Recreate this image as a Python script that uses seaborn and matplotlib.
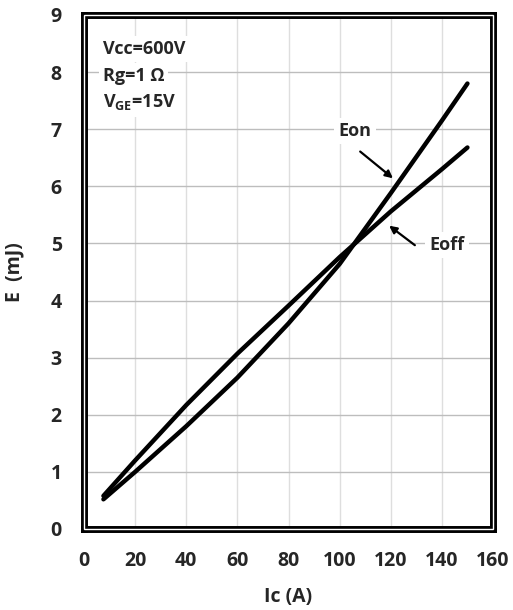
import matplotlib
matplotlib.use("Agg")
import matplotlib.pyplot as plt
import seaborn as sns
import pandas as pd
from matplotlib.patches import Rectangle

# Data
ic_on = [7.6, 20, 40, 60, 80, 100, 120, 140, 150]
e_on = [0.52, 1.00, 1.80, 2.65, 3.60, 4.64, 5.88, 7.15, 7.80]
ic_off = [7.6, 20, 40, 60, 80, 100, 120, 140, 150]
e_off = [0.58, 1.20, 2.17, 3.07, 3.91, 4.76, 5.56, 6.30, 6.68]

x_ticks = [0, 20, 40, 60, 80, 100, 120, 140, 160]
y_ticks = [0, 1, 2, 3, 4, 5, 6, 7, 8, 9]

df = pd.concat([
    pd.DataFrame({"Ic": ic_on, "E": e_on, "curve": "Eon"}),
    pd.DataFrame({"Ic": ic_off, "E": e_off, "curve": "Eoff"}),
])

sns.set_style("white")
FONT = ["Open Sans", "DejaVu Sans"]
plt.rcParams["font.family"] = FONT
plt.rcParams["font.weight"] = "bold"
plt.rcParams["mathtext.fontset"] = "custom"
plt.rcParams["mathtext.bf"] = "Open Sans:bold"
plt.rcParams["mathtext.rm"] = "Open Sans:bold"

fig = plt.figure(figsize=(5.13, 6.10), dpi=100)
ax = fig.add_axes([84/513, 1-529/610, 409/513, 514/610])

sns.lineplot(data=df, x="Ic", y="E", units="curve", estimator=None,
             color="black", linewidth=3.2, sort=False, ax=ax,
             solid_capstyle="round", solid_joinstyle="round", legend=False)

ax.set_xlim(0, 160)
ax.set_ylim(0, 9)
ax.set_xticks(x_ticks)
ax.set_yticks(y_ticks)
ax.set_xticklabels([str(v) for v in x_ticks], fontsize=14, fontweight="bold")
ax.set_yticklabels([str(v) for v in y_ticks], fontsize=14, fontweight="bold")
ax.tick_params(axis="x", length=0, pad=16)
ax.tick_params(axis="y", length=0, pad=16)

# grid
for v in x_ticks[1:-1]:
    ax.axvline(v, color="#dedede", lw=1, zorder=0)
for v in y_ticks[1:-1]:
    ax.axhline(v, color="#bdbdbd", lw=1, zorder=0)

for s in ax.spines.values():
    s.set_linewidth(5)
    s.set_color("black")
ax.add_patch(Rectangle((0, 0), 1, 1, transform=ax.transAxes, fill=False,
                       edgecolor="white", lw=1, clip_on=False, zorder=10))

ax.set_xlabel("Ic (A)", fontsize=14, fontweight="bold")
ax.set_ylabel("E  (mJ)", fontsize=14, fontweight="bold")
ax.xaxis.set_label_coords(0.5, -0.112)
ax.yaxis.set_label_coords(-0.145, 0.5)

box = dict(facecolor="white", edgecolor="none", pad=3)
ax.text(7.3, 8.4, "Vcc=600V", fontsize=13, fontweight="bold", va="center",
        ha="left", bbox=box)
ax.text(7.3, 7.93, "Rg=1 Ω", fontsize=13, fontweight="bold", va="center",
        ha="left", bbox=box)
ax.text(7.3, 7.47, r"V$_{\mathbf{GE}}$=15V", fontsize=13, fontweight="bold",
        va="center", ha="left", bbox=box)

ax.text(106, 6.97, "Eon", fontsize=13, fontweight="bold", va="center",
        ha="center", bbox=box)
ax.text(142, 4.97, "Eoff", fontsize=13, fontweight="bold", va="center",
        ha="center", bbox=box)

arrow = dict(arrowstyle="-|>", color="black", lw=1.6, mutation_scale=11)
ax.annotate("", xy=(121.7, 6.11), xytext=(107.2, 6.64), arrowprops=arrow)
ax.annotate("", xy=(118.5, 5.34), xytext=(130.3, 4.94), arrowprops=arrow)

fig.savefig("out.png", dpi=100)
